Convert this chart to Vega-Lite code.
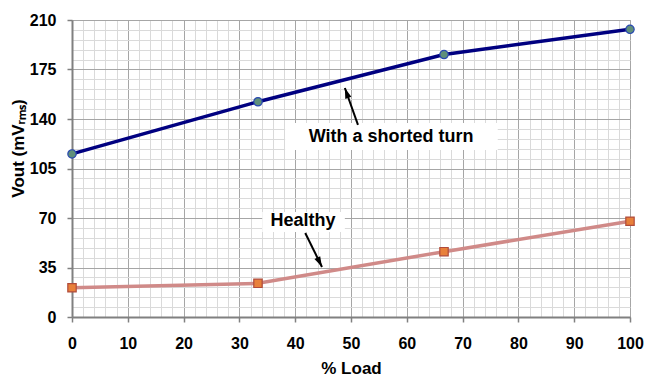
{
  "$schema": "https://vega.github.io/schema/vega-lite/v6.json",
  "autosize": "none",
  "width": 558,
  "height": 297,
  "padding": {"left": 72, "top": 20, "right": 16, "bottom": 61},
  "background": "white",
  "config": {
    "view": {"stroke": "#a6a6a6", "strokeWidth": 1},
    "font": "Liberation Sans"
  },
  "datasets": {
    "series": [
      {"load": 0, "vout": 115.3, "series": "With a shorted turn"},
      {"load": 33.33, "vout": 152.2, "series": "With a shorted turn"},
      {"load": 66.67, "vout": 185.6, "series": "With a shorted turn"},
      {"load": 100, "vout": 203.4, "series": "With a shorted turn"},
      {"load": 0, "vout": 20.7, "series": "Healthy"},
      {"load": 33.33, "vout": 23.8, "series": "Healthy"},
      {"load": 66.67, "vout": 46.2, "series": "Healthy"},
      {"load": 100, "vout": 67.7, "series": "Healthy"}
    ],
    "boxes": [
      {"x1": 38.2, "x2": 76.3, "y1": 118.1, "y2": 137.2, "label": "With a shorted turn", "tx": 57.2, "ty": 127.3},
      {"x1": 34.1, "x2": 48.9, "y1": 60.1, "y2": 74.2, "label": "Healthy", "tx": 41.4, "ty": 68.2}
    ],
    "arrows": [
      {"id": "shorted", "x1": 51.25, "y1": 135.8, "x2": 48.9, "y2": 161.9},
      {"id": "healthy", "x1": 41.8, "y1": 59.4, "x2": 44.8, "y2": 35.4}
    ]
  },
  "encoding": {
    "x": {
      "type": "quantitative",
      "scale": {"domain": [0, 100], "nice": false, "zero": false},
      "axis": {
        "values": [0,2,4,6,8,10,12,14,16,18,20,22,24,26,28,30,32,34,36,38,40,42,44,46,48,50,52,54,56,58,60,62,64,66,68,70,72,74,76,78,80,82,84,86,88,90,92,94,96,98,100],
        "labelExpr": "datum.value % 10 === 0 ? datum.label : ''",
        "labelOverlap": false,
        "labelFont": "Liberation Sans",
        "labelFontSize": 16,
        "labelFontWeight": "bold",
        "labelColor": "black",
        "labelPadding": 13,
        "labelFlush": false,
        "grid": true,
        "gridColor": {"condition": {"test": "datum.value % 10 === 0", "value": "#a6a6a6"}, "value": "#dadada"},
        "gridWidth": 1,
        "ticks": true,
        "tickSize": 5,
        "tickColor": "#808080",
        "tickWidth": 1.5,
        "tickOpacity": {"condition": {"test": "datum.value % 10 === 0", "value": 1}, "value": 0},
        "domainColor": "#808080",
        "domainWidth": 2,
        "title": "% Load",
        "titleFont": "Liberation Sans",
        "titleFontSize": 17,
        "titleFontWeight": "bold",
        "titleColor": "black",
        "titleY": 51,
        "titleBaseline": "middle"
      }
    },
    "y": {
      "type": "quantitative",
      "scale": {"domain": [0, 210], "nice": false, "zero": false},
      "axis": {
        "values": [0,7,14,21,28,35,42,49,56,63,70,77,84,91,98,105,112,119,126,133,140,147,154,161,168,175,182,189,196,203,210],
        "labelExpr": "datum.value % 35 === 0 ? datum.label : ''",
        "labelOverlap": false,
        "labelFont": "Liberation Sans",
        "labelFontSize": 16,
        "labelFontWeight": "bold",
        "labelColor": "black",
        "labelPadding": 11,
        "labelFlush": false,
        "grid": true,
        "gridColor": {"condition": {"test": "datum.value % 35 === 0", "value": "#a6a6a6"}, "value": "#dadada"},
        "gridWidth": 1,
        "ticks": true,
        "tickSize": 5,
        "tickColor": "#808080",
        "tickWidth": 1.5,
        "tickOpacity": {"condition": {"test": "datum.value % 35 === 0", "value": 1}, "value": 0},
        "domainColor": "#808080",
        "domainWidth": 2,
        "title": "Vout (mVᵣₘₛ)",
        "titleFont": "Liberation Sans",
        "titleFontSize": 17,
        "titleFontWeight": "bold",
        "titleColor": "black",
        "titleAngle": 270,
        "titleX": -54,
        "titleY": 128,
        "titleAlign": "center",
        "titleBaseline": "middle"
      }
    }
  },
  "layer": [
    {
      "data": {"name": "boxes"},
      "mark": {"type": "rect", "fill": "white", "stroke": null},
      "encoding": {
        "x": {"field": "x1", "type": "quantitative"},
        "x2": {"field": "x2"},
        "y": {"field": "y1", "type": "quantitative"},
        "y2": {"field": "y2"}
      }
    },
    {
      "data": {"name": "series"},
      "mark": {"type": "line", "strokeWidth": 3.5, "clip": false},
      "encoding": {
        "x": {"field": "load", "type": "quantitative"},
        "y": {"field": "vout", "type": "quantitative"},
        "detail": {"field": "series"},
        "color": {
          "field": "series", "type": "nominal", "legend": null,
          "scale": {"domain": ["With a shorted turn", "Healthy"], "range": ["#000080", "#d08a88"]}
        }
      }
    },
    {
      "data": {"name": "series"},
      "mark": {"type": "point", "filled": true, "strokeWidth": 1.2, "opacity": 1, "clip": false},
      "encoding": {
        "x": {"field": "load", "type": "quantitative"},
        "y": {"field": "vout", "type": "quantitative"},
        "shape": {
          "field": "series", "type": "nominal", "legend": null,
          "scale": {"domain": ["With a shorted turn", "Healthy"], "range": ["circle", "square"]}
        },
        "fill": {
          "field": "series", "type": "nominal", "legend": null,
          "scale": {"domain": ["With a shorted turn", "Healthy"], "range": ["#5f8f7a", "#e8803a"]}
        },
        "stroke": {
          "field": "series", "type": "nominal", "legend": null,
          "scale": {"domain": ["With a shorted turn", "Healthy"], "range": ["#2848b0", "#b04a3a"]}
        },
        "size": {"value": 70}
      }
    },
    {
      "data": {"name": "arrows"},
      "mark": {"type": "rule", "color": "black", "strokeWidth": 2},
      "encoding": {
        "x": {"field": "x1", "type": "quantitative"},
        "y": {"field": "y1", "type": "quantitative"},
        "x2": {"field": "x2"},
        "y2": {"field": "y2"}
      }
    },
    {
      "data": {"name": "arrows"},
      "transform": [{"filter": "datum.id === 'shorted'"}],
      "mark": {"type": "point", "filled": true, "color": "black", "opacity": 1, "shape": "M0,0L-0.4,1.3L0.4,1.3Z", "size": 256, "angle": 340.6},
      "encoding": {
        "x": {"field": "x2", "type": "quantitative"},
        "y": {"field": "y2", "type": "quantitative"}
      }
    },
    {
      "data": {"name": "arrows"},
      "transform": [{"filter": "datum.id === 'healthy'"}],
      "mark": {"type": "point", "filled": true, "color": "black", "opacity": 1, "shape": "M0,0L-0.4,1.3L0.4,1.3Z", "size": 256, "angle": 153.4},
      "encoding": {
        "x": {"field": "x2", "type": "quantitative"},
        "y": {"field": "y2", "type": "quantitative"}
      }
    },
    {
      "data": {"name": "boxes"},
      "mark": {"type": "text", "font": "Liberation Sans", "fontSize": 18, "fontWeight": "bold", "color": "black", "align": "center", "baseline": "middle"},
      "encoding": {
        "x": {"field": "tx", "type": "quantitative"},
        "y": {"field": "ty", "type": "quantitative"},
        "text": {"field": "label"}
      }
    }
  ]
}
